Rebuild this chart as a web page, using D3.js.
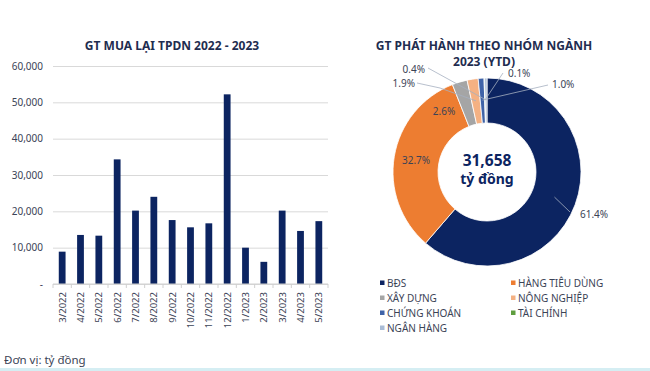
<!DOCTYPE html>
<html>
<head>
<meta charset="utf-8">
<script src="https://cdn.jsdelivr.net/npm/d3@7"></script>
<style>
  body { margin: 0; background: #fff; }
  svg { display: block; font-family: "Noto Sans", sans-serif; }
</style>
</head>
<body>
<svg id="chart" width="650" height="371"></svg>
<script>
// ---------------- data ----------------
const months = ["3/2022", "4/2022", "5/2022", "6/2022", "7/2022", "8/2022", "9/2022",
  "10/2022", "11/2022", "12/2022", "1/2023", "2/2023", "3/2023", "4/2023", "5/2023"];
const buyback = [8900, 13500, 13300, 34300, 20200, 24000, 17600,
  15600, 16700, 52200, 10000, 6100, 20200, 14600, 17300];
const yTicks = [0, 10000, 20000, 30000, 40000, 50000, 60000];

const sectors = ["BĐS", "HÀNG TIÊU DÙNG", "XÂY DỰNG", "NÔNG NGHIỆP", "CHỨNG KHOÁN", "TÀI CHÍNH", "NGÂN HÀNG"];
const shares = [61.4, 32.7, 2.6, 1.9, 1.0, 0.1, 0.4];
const sectorColors = ["#0c2461", "#ed7d31", "#a5a5a5", "#f4b183", "#3f63a8", "#5f9e3f", "#a9bcd6"];
const totalIssued = "31,658";

const navy = "#0c2461";
const titleColor = "#1f2d50";
const textColor = "#3b4356";

const svg = d3.select("#chart");

// ======================================================================
// LEFT: BAR CHART
// ======================================================================
svg.append("text")
  .attr("x", 172).attr("y", 50)
  .attr("text-anchor", "middle")
  .attr("font-size", 12).attr("font-weight", "bold")
  .attr("fill", titleColor)
  .text("GT MUA LẠI TPDN 2022 - 2023");

const x = d3.scaleBand().domain(months).range([53, 328]).paddingInner(0.63).paddingOuter(0.315);
const y = d3.scaleLinear().domain([0, 60000]).range([284, 66]);

// gridlines + y labels
const yAxis = d3.axisLeft(y).tickValues(yTicks)
  .tickSize(-(328 - 53))
  .tickFormat(d => d === 0 ? "-" : d3.format(",")(d));

svg.append("g")
  .attr("transform", "translate(53,0)")
  .call(yAxis)
  .call(g => g.select(".domain").remove())
  .call(g => g.selectAll(".tick line").attr("stroke", "#d9d9d9"))
  .call(g => g.selectAll(".tick text")
    .attr("x", -10).attr("font-size", 10).attr("fill", textColor)
    .attr("font-family", "Noto Sans"));

// bars
svg.append("g").selectAll("rect")
  .data(buyback)
  .enter()
  .append("rect")
  .attr("x", (d, i) => x(months[i]))
  .attr("width", x.bandwidth())
  .attr("y", d => y(d))
  .attr("height", d => y(0) - y(d))
  .attr("fill", navy);

// x axis line + category boundary ticks
const xg = svg.append("g");
xg.append("line")
  .attr("x1", 53).attr("x2", 328)
  .attr("y1", y(0)).attr("y2", y(0))
  .attr("stroke", "#d0d0d0");
xg.selectAll("line.tk")
  .data(d3.range(months.length + 1))
  .enter()
  .append("line")
  .attr("class", "tk")
  .attr("x1", i => 53 + i * x.step()).attr("x2", i => 53 + i * x.step())
  .attr("y1", y(0)).attr("y2", y(0) + 4)
  .attr("stroke", "#d0d0d0");

xg.selectAll("text")
  .data(months)
  .enter()
  .append("text")
  .attr("transform", d => `translate(${x(d) + x.bandwidth() / 2 + 3.5},${y(0) + 8}) rotate(-90)`)
  .attr("text-anchor", "end")
  .attr("font-size", 9.5)
  .attr("fill", textColor)
  .text(d => d);

svg.append("text")
  .attr("x", 4).attr("y", 364)
  .attr("font-size", 11.5)
  .attr("fill", textColor)
  .text("Đơn vị: tỷ đồng");

svg.append("rect")
  .attr("x", 0).attr("y", 368).attr("width", 650).attr("height", 3)
  .attr("fill", "#d5eef3");

// ======================================================================
// RIGHT: DONUT
// ======================================================================
const cx = 487, cy = 172, rOuter = 94, rInner = 49;

const titleR = svg.append("text")
  .attr("text-anchor", "middle")
  .attr("font-size", 12).attr("font-weight", "bold")
  .attr("fill", titleColor);
titleR.append("tspan").attr("x", 484).attr("y", 49.5).text("GT PHÁT HÀNH THEO NHÓM NGÀNH");
titleR.append("tspan").attr("x", 484).attr("y", 65.5).text("2023 (YTD)");

const pie = d3.pie().sort(null).value(d => d);
const arcs = pie(shares);
const arc = d3.arc().innerRadius(rInner).outerRadius(rOuter);
const midArc = d3.arc().innerRadius(72).outerRadius(72);

const donut = svg.append("g").attr("transform", `translate(${cx},${cy})`);
donut.selectAll("path")
  .data(arcs)
  .enter()
  .append("path")
  .attr("d", arc)
  .attr("fill", (d, i) => sectorColors[i])
  .attr("stroke", "#fff")
  .attr("stroke-width", 0.8);

// label placement relative to donut centre; null = on slice centroid
// line = extra leader points after the slice centroid
const labelPos = [
  { tx: 93, ty: 42, anchor: "start", line: [[83, 40]] },
  null,
  { tx: -43, ty: -61, anchor: "middle" },
  { tx: -72, ty: -89, anchor: "end", line: [[-47, -84], [-70, -89]] },
  { tx: 65, ty: -88, anchor: "start", line: [[61, -87]] },
  { tx: 21, ty: -99, anchor: "start", line: [[16, -99]] },
  { tx: -62, ty: -103, anchor: "end", line: [[-59, -104]] }
];

arcs.forEach((a, i) => {
  const c = midArc.centroid(a);
  const p = labelPos[i];
  const label = shares[i].toFixed(1) + "%";
  if (!p) {
    donut.append("text")
      .attr("x", c[0]).attr("y", c[1] + 4)
      .attr("text-anchor", "middle")
      .attr("font-size", 10).attr("fill", textColor)
      .text(label);
    return;
  }
  if (p.line) {
    donut.append("polyline")
      .attr("points", [c].concat(p.line).map(q => q.join(",")).join(" "))
      .attr("fill", "none")
      .attr("stroke", "#a6b0c0")
      .attr("stroke-width", 0.8);
  }
  donut.append("text")
    .attr("x", p.tx).attr("y", p.ty + 4)
    .attr("text-anchor", p.anchor)
    .attr("font-size", 10).attr("fill", textColor)
    .text(label);
});

donut.append("text")
  .attr("y", -6).attr("text-anchor", "middle")
  .attr("font-size", 15.5).attr("font-weight", "bold").attr("fill", navy)
  .text(totalIssued);
donut.append("text")
  .attr("y", 12).attr("text-anchor", "middle")
  .attr("font-size", 14).attr("font-weight", "bold").attr("fill", navy)
  .text("tỷ đồng");

// legend
const legend = svg.append("g");
sectors.forEach((s, i) => {
  const col = i % 2, row = Math.floor(i / 2);
  const lx = col === 0 ? 380 : 511;
  const ly = 283 + row * 15;
  legend.append("rect")
    .attr("x", lx).attr("y", ly - 2.5)
    .attr("width", 4.5).attr("height", 4.5)
    .attr("fill", sectorColors[i]);
  legend.append("text")
    .attr("x", lx + 7).attr("y", ly + 3.5)
    .attr("font-size", 10).attr("fill", textColor)
    .text(s);
});
</script>
</body>
</html>
